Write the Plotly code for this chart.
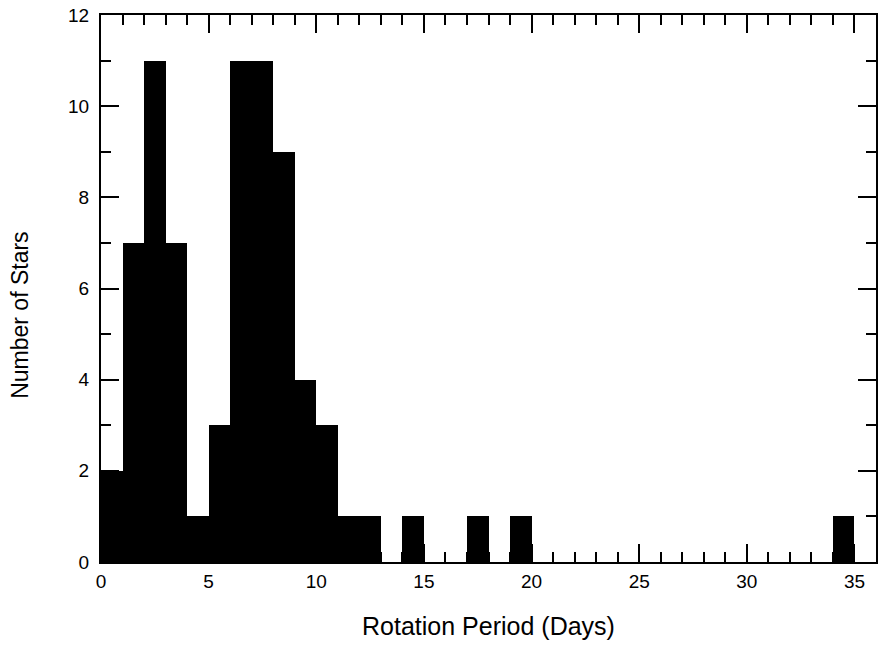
import plotly.graph_objects as go

# Histogram data: left edge of each 1-day bin and the star count in it
bin_starts = [0, 1, 2, 3, 4, 5, 6, 7, 8, 9, 10, 11, 12, 14, 17, 19, 34]
counts = [2, 7, 11, 7, 1, 3, 11, 11, 9, 4, 3, 1, 1, 1, 1, 1, 1]
bin_width = 1

x_tick_vals = [0, 5, 10, 15, 20, 25, 30, 35]
y_tick_vals = [0, 2, 4, 6, 8, 10, 12]

fig = go.Figure()
fig.add_trace(go.Bar(
    x=bin_starts, y=counts, width=bin_width, offset=0,
    marker=dict(color="black", line=dict(width=0)),
    showlegend=False,
))

font_family = "Liberation Sans, Arial, Helvetica, sans-serif"

fig.update_layout(
    width=881, height=648,
    margin=dict(l=101, r=3, t=15, b=86),
    plot_bgcolor="white", paper_bgcolor="white",
    bargap=0,
    font=dict(family=font_family, color="black"),
    xaxis=dict(
        range=[0, 36], tickvals=x_tick_vals, ticks="inside", ticklen=18, tickwidth=1.5,
        tickcolor="black", showline=True, linecolor="black", linewidth=2, mirror="allticks",
        showgrid=False, zeroline=False,
        tickfont=dict(size=19, family=font_family, color="black"), ticklabelstandoff=1,
        minor=dict(dtick=1, tick0=0, ticks="inside", ticklen=10, tickwidth=1.5, tickcolor="black", showgrid=False),
        title=dict(text="Rotation Period (Days)", font=dict(size=25), standoff=27),
    ),
    yaxis=dict(
        range=[0, 12], tickvals=y_tick_vals, ticks="inside", ticklen=18, tickwidth=1.5,
        tickcolor="black", showline=True, linecolor="black", linewidth=2, mirror="allticks",
        showgrid=False, zeroline=False,
        tickfont=dict(size=19, family=font_family, color="black"), ticklabelstandoff=6,
        minor=dict(dtick=1, tick0=0, ticks="inside", ticklen=10, tickwidth=1.5, tickcolor="black", showgrid=False),
    ),
)

fig.add_annotation(
    text="Number of Stars", textangle=-90, font=dict(size=23, family=font_family, color="black"),
    xref="paper", yref="paper", x=0, y=0.45, xanchor="center", yanchor="middle",
    xshift=-81, showarrow=False,
)

fig.write_html("out.html")
